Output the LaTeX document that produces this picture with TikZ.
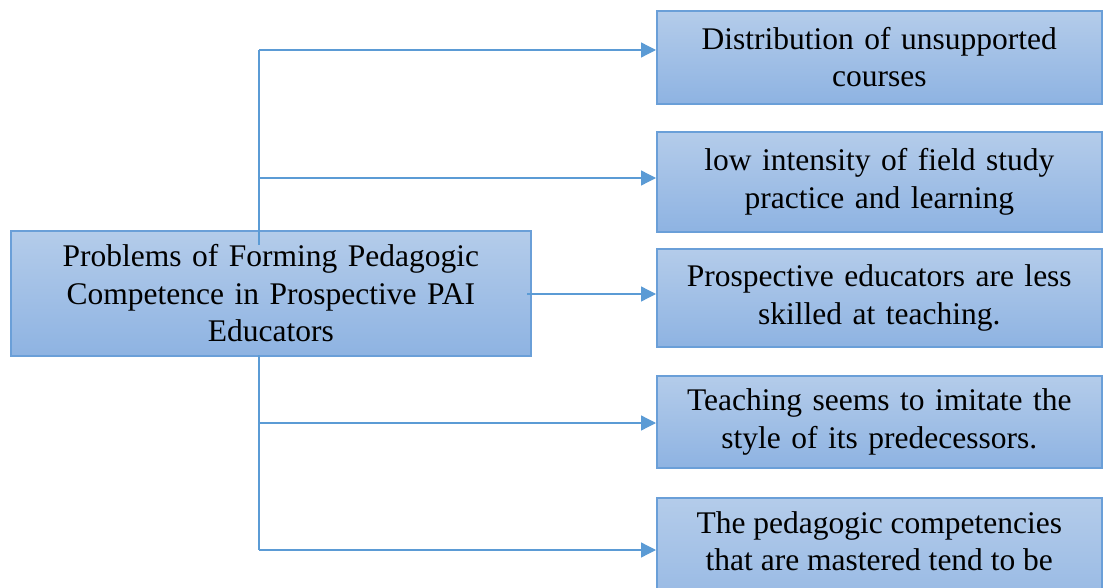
\documentclass[tikz,border=0pt]{standalone}
\usepackage{fontspec}
\setmainfont{Liberation Serif}
\usetikzlibrary{arrows.meta}
\definecolor{edge}{HTML}{6A9FD8}
\definecolor{wire}{HTML}{5B9BD5}
\definecolor{filltop}{HTML}{B4CCEA}
\definecolor{fillbot}{HTML}{8EB3E2}
\tikzset{
  boxfont/.style={font=\fontsize{31.5}{37.5}\selectfont},
  box/.style={draw=edge, line width=1.6pt, top color=filltop, bottom color=fillbot,
    anchor=north west, inner sep=0pt, align=center, boxfont},
  link/.style={draw=wire, line width=1.3pt},
  arrowlink/.style={link, -{Triangle[length=15pt,width=15pt]}}
}
\begin{document}
\begin{tikzpicture}[x=1pt,y=-1pt]
\useasboundingbox (0,0) rectangle (1103,588);
\clip (0,0) rectangle (1103,588);
\fill[white] (0,0) rectangle (1103,588);

% central problem box
\node[box, minimum width=520pt, minimum height=125pt, text width=510pt] (main) at (10,230)
  {Problems of Forming Pedagogic\\Competence in Prospective PAI\\Educators};

% consequence boxes
\node[box, minimum width=445pt, minimum height=93pt, text width=435pt] (b1) at (656,10)
  {Distribution of unsupported\\courses};
\node[box, minimum width=445pt, minimum height=100pt, text width=435pt] (b2) at (656,131)
  {low intensity of field study\\practice and learning};
\node[box, minimum width=445pt, minimum height=98pt, text width=435pt] (b3) at (656,248)
  {Prospective educators are less\\skilled at teaching.};
\node[box, minimum width=445pt, minimum height=92pt, text width=435pt] (b4) at (656,375)
  {Teaching seems to imitate the\\style of its predecessors.};
\node[box, minimum width=445pt, minimum height=140pt, text width=435pt] (b5) at (656,497) {};
\node[boxfont, align=center, anchor=north, inner sep=0pt] (b5t) at ([yshift=-14pt]b5.north)
  {The pedagogic competencies\\that are mastered tend to be};

% trunk above the central box
\coordinate (top) at (259,245);
\coordinate (j1) at (259,50);
\coordinate (j2) at (259,178);
\draw[link] (top) -- (j1);
\draw[arrowlink] (j1) -- (j1 -| b1.west);
\draw[arrowlink] (j2) -- (j2 -| b2.west);

% direct branch from the right side
\coordinate (m0) at (527,294);
\draw[arrowlink] (m0) -- (m0 -| b3.west);

% trunk below the central box
\coordinate (bot) at (259,355);
\coordinate (j4) at (259,423);
\coordinate (j5) at (259,550);
\draw[link] (bot) -- (j5);
\draw[arrowlink] (j4) -- (j4 -| b4.west);
\draw[arrowlink] (j5) -- (j5 -| b5.west);
\end{tikzpicture}
\end{document}
